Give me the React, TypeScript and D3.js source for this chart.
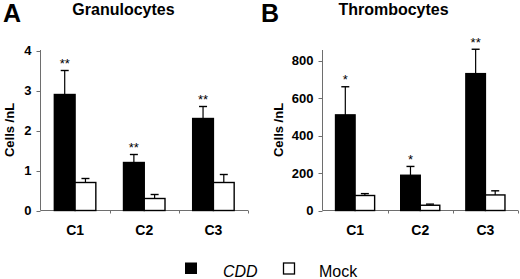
import React from "react";
import * as d3 from "d3";

const categories = ["C1", "C2", "C3"];
const seriesNames = ["CDD", "Mock"];

const granCDD = [2.9, 1.2, 2.3];
const granCDDErr = [0.6, 0.2, 0.3];
const granMock = [0.7, 0.3, 0.7];
const granMockErr = [0.1, 0.1, 0.2];
const granStars = ["**", "**", "**"];
const granTicks = [0, 1, 2, 3, 4];

const thrCDD = [510, 188, 730];
const thrCDDErr = [150, 47, 130];
const thrMock = [80, 28, 83];
const thrMockErr = [10, 6, 22];
const thrStars = ["*", "*", "**"];
const thrTicks = [0, 200, 400, 600, 800];

const FONT = "'Liberation Sans', Arial, sans-serif";
const AXIS = "#6e6e6e";

type PanelProps = {
  letter: string;
  title: string;
  letterX: number;
  titleX: number;
  x0: number;
  x1: number;
  yTop: number;
  yMaxVal: number;
  yMaxPx: number;
  cdd: number[];
  cddErr: number[];
  mock: number[];
  mockErr: number[];
  stars: string[];
  ticks: number[];
  labelX: number;
};

function Panel(p: PanelProps) {
  const y0 = 210.5;
  const y = d3.scaleLinear().domain([0, p.yMaxVal]).range([y0, p.yMaxPx]);
  const x = d3
    .scaleBand<string>()
    .domain(categories)
    .range([p.x0, p.x1])
    .paddingInner(0.4)
    .paddingOuter(0.2);
  const step = x.step();
  const inner = d3.scaleBand<string>().domain(seriesNames).range([0, x.bandwidth()]);
  const series = [
    { name: "CDD", vals: p.cdd, errs: p.cddErr, fill: "#000" },
    { name: "Mock", vals: p.mock, errs: p.mockErr, fill: "#fff" },
  ];
  const boundaries = [1, 2, 3].map((i) => p.x0 + i * step);
  return (
    <g>
      <text x={p.letterX} y={22} fontFamily={FONT} fontWeight="bold" fontSize={25}>
        {p.letter}
      </text>
      <text x={p.titleX} y={15} fontFamily={FONT} fontWeight="bold" fontSize={16} textAnchor="middle">
        {p.title}
      </text>
      {/* axes */}
      <line x1={p.x0} x2={p.x0} y1={p.yTop} y2={y0} stroke={AXIS} strokeWidth={1} />
      <line x1={p.x0} x2={p.x1} y1={y0} y2={y0} stroke={AXIS} strokeWidth={1} />
      {p.ticks.map((t) => (
        <g key={t}>
          <line x1={p.x0 - 4} x2={p.x0} y1={Math.round(y(t)) + 0.5} y2={Math.round(y(t)) + 0.5} stroke={AXIS} />
          <text
            x={p.x0 - 9}
            y={y(t) + 4.5}
            fontFamily={FONT}
            fontWeight="bold"
            fontSize={13}
            textAnchor="end"
          >
            {t}
          </text>
        </g>
      ))}
      {boundaries.map((b, i) => (
        <line key={i} x1={Math.round(b) + 0.5} x2={Math.round(b) + 0.5} y1={y0} y2={y0 + 3} stroke={AXIS} />
      ))}
      <text
        transform={`translate(${p.labelX},130) rotate(-90)`}
        fontFamily={FONT}
        fontWeight="bold"
        fontSize={13}
        textAnchor="middle"
      >
        Cells /nL
      </text>
      {/* bars */}
      {series.map((s) =>
        categories.map((c, i) => {
          const bx = (x(c) as number) + (inner(s.name) as number);
          const bw = inner.bandwidth();
          const top = y(s.vals[i]);
          const et = y(s.vals[i] + s.errs[i]);
          const cx = bx + bw / 2;
          return (
            <g key={s.name + c}>
              <line x1={cx} x2={cx} y1={top} y2={et} stroke="#000" strokeWidth={1.2} />
              <line x1={cx - 4} x2={cx + 4} y1={et} y2={et} stroke="#000" strokeWidth={1.4} />
              <rect
                x={bx}
                y={top}
                width={bw}
                height={y0 - top}
                fill={s.fill}
                stroke="#000"
                strokeWidth={1.4}
              />
            </g>
          );
        })
      )}
      {categories.map((c, i) => {
        const bx = (x(c) as number) + (inner("CDD") as number) + inner.bandwidth() / 2;
        const et = y(p.cdd[i] + p.cddErr[i]);
        return (
          <text key={"s" + c} x={bx} y={et - 2.5} fontFamily={FONT} fontSize={13} textAnchor="middle">
            {p.stars[i]}
          </text>
        );
      })}
      {categories.map((c) => (
        <text
          key={"l" + c}
          x={(x(c) as number) + x.bandwidth() / 2}
          y={235}
          fontFamily={FONT}
          fontWeight="bold"
          fontSize={14}
          textAnchor="middle"
        >
          {c}
        </text>
      ))}
    </g>
  );
}

export default function App() {
  return (
    <svg
      width={520}
      height={279}
      style={{ position: "absolute", left: 0, top: 0, background: "#fff" }}
    >
      <rect width={520} height={279} fill="#fff" />
      <Panel
        letter="A"
        title="Granulocytes"
        letterX={3}
        titleX={123.5}
        x0={40.5}
        x1={248}
        yTop={50}
        yMaxVal={4}
        yMaxPx={50.5}
        cdd={granCDD}
        cddErr={granCDDErr}
        mock={granMock}
        mockErr={granMockErr}
        stars={granStars}
        ticks={granTicks}
        labelX={13.5}
      />
      <Panel
        letter="B"
        title="Thrombocytes"
        letterX={261}
        titleX={393.5}
        x0={322.5}
        x1={518}
        yTop={50}
        yMaxVal={800}
        yMaxPx={60.5}
        cdd={thrCDD}
        cddErr={thrCDDErr}
        mock={thrMock}
        mockErr={thrMockErr}
        stars={thrStars}
        ticks={thrTicks}
        labelX={283}
      />
      {/* legend */}
      <rect x={185} y={262.5} width={12} height={11.5} fill="#000" />
      <text x={223} y={276.5} fontFamily={FONT} fontStyle="italic" fontSize={16}>
        CDD
      </text>
      <rect x={283.5} y={263} width={11} height={11} fill="#fff" stroke="#000" strokeWidth={1.3} />
      <text x={319} y={276.5} fontFamily={FONT} fontSize={16}>
        Mock
      </text>
    </svg>
  );
}
